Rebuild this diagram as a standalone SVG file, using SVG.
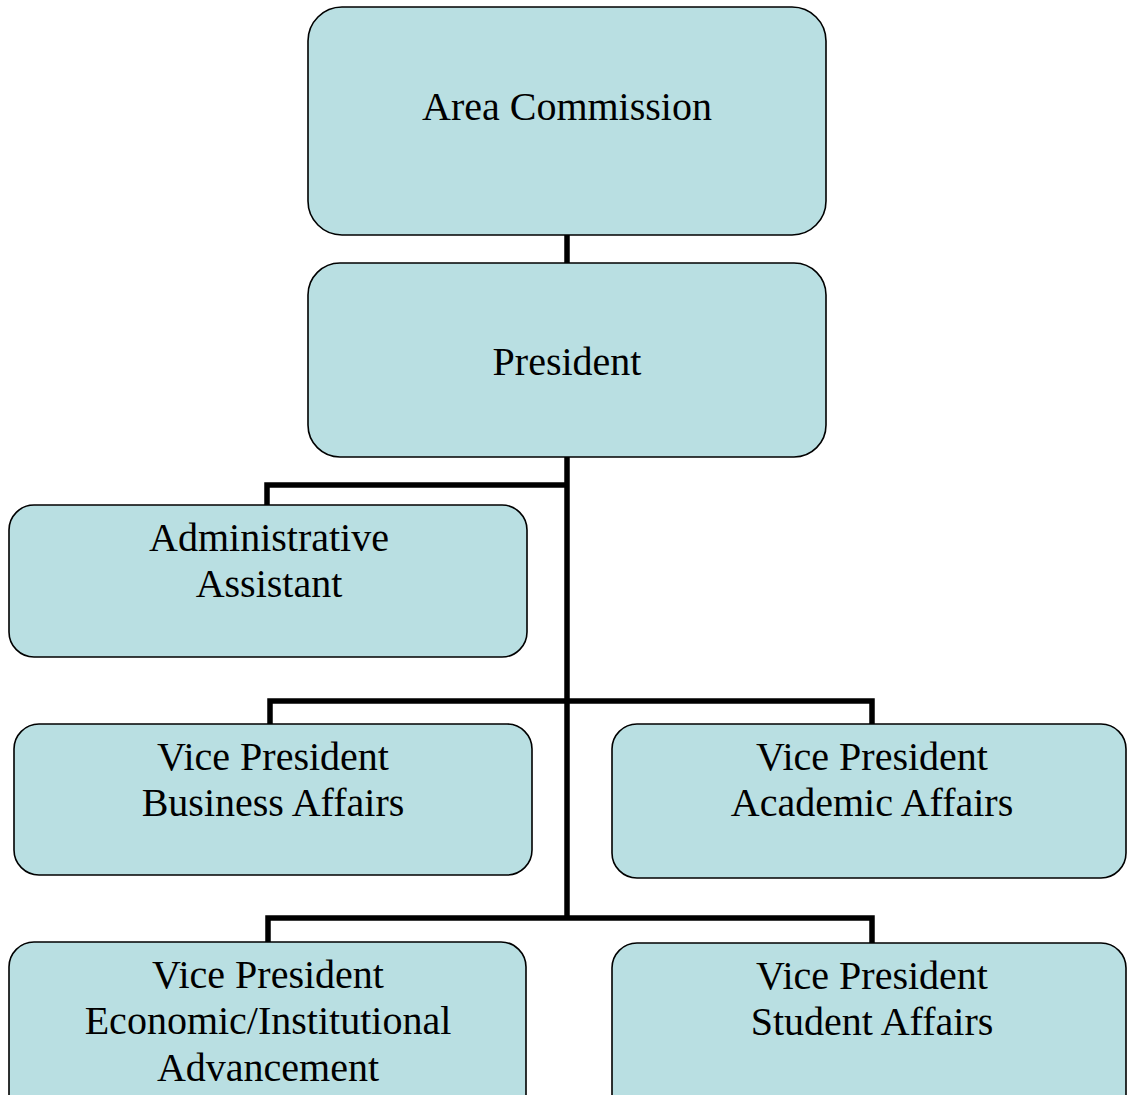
<svg xmlns="http://www.w3.org/2000/svg" width="1127" height="1095" viewBox="0 0 1127 1095">
<style>
.box{fill:#b9dfe2;stroke:#000;stroke-width:1.6}
.lbl{font-family:"Liberation Serif","Times New Roman",serif;font-size:40px;fill:#000;text-anchor:middle}
.conn{fill:none;stroke:#000;stroke-width:5.5;stroke-linejoin:miter;stroke-linecap:butt}
</style>
<rect width="1127" height="1095" fill="#fff"/>
<g id="connectors">
<path class="conn" d="M567,235 V263"/>
<path class="conn" d="M567,457 V918"/>
<path class="conn" d="M567,485 H267 V505"/>
<path class="conn" d="M270,724 V701 H872 V724"/>
<path class="conn" d="M268,943 V918 H872 V943"/>
</g>
<g id="area-commission">
<rect class="box" x="308" y="7" width="518" height="228" rx="34"/>
<text class="lbl" x="567" y="120">Area Commission</text>
</g>
<g id="president">
<rect class="box" x="308" y="263" width="518" height="194" rx="32"/>
<text class="lbl" x="567" y="375">President</text>
</g>
<g id="admin-assistant">
<rect class="box" x="9" y="505" width="518" height="152" rx="25"/>
<text class="lbl" x="269" y="551">Administrative</text>
<text class="lbl" x="269" y="597">Assistant</text>
</g>
<g id="vp-business">
<rect class="box" x="14" y="724" width="518" height="151" rx="25"/>
<text class="lbl" x="273" y="770">Vice President</text>
<text class="lbl" x="273" y="816">Business Affairs</text>
</g>
<g id="vp-academic">
<rect class="box" x="612" y="724" width="514" height="154" rx="25"/>
<text class="lbl" x="872" y="770">Vice President</text>
<text class="lbl" x="872" y="816">Academic Affairs</text>
</g>
<g id="vp-economic">
<rect class="box" x="9" y="942" width="517" height="180" rx="25"/>
<text class="lbl" x="268" y="988">Vice President</text>
<text class="lbl" x="268" y="1034">Economic/Institutional</text>
<text class="lbl" x="268" y="1081">Advancement</text>
</g>
<g id="vp-student">
<rect class="box" x="612" y="943" width="514" height="180" rx="25"/>
<text class="lbl" x="872" y="989">Vice President</text>
<text class="lbl" x="872" y="1035">Student Affairs</text>
</g>
</svg>
